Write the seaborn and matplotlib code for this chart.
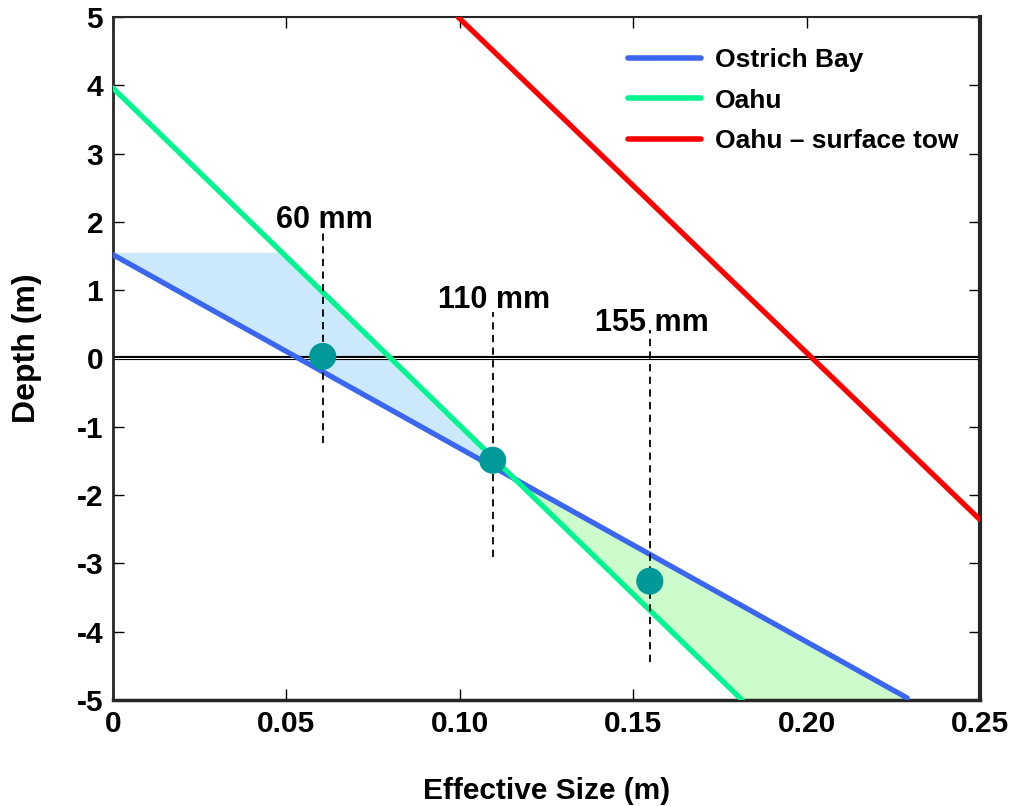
"""
Depth vs effective size for Ostrich Bay and Oahu.
"""

import matplotlib
matplotlib.use("Agg")
import matplotlib.pyplot as plt
import seaborn as sns
import pandas as pd

# Line endpoints
ostrich_x = [0.0, 0.229]
ostrich_y = [1.52, -4.97]
oahu_x = [0.0, 0.1814]
oahu_y = [3.96, -5.0]
tow_x = [0.0995, 0.25]
tow_y = [5.0, -2.36]

# Shaded regions between the lines
blue_fill_x = [0.0, 0.0, 0.049, 0.1156]
blue_fill_y = [1.52, 1.55, 1.55, -1.75]
green_fill_x = [0.1156, 0.1814, 0.229]
green_fill_y = [-1.75, -5.0, -5.0]

# Size markers
marker_x = [0.0605, 0.1095, 0.1548]
marker_y = [0.03, -1.49, -3.26]
marker_labels = ["60 mm", "110 mm", "155 mm"]
guide_top = [1.85, 0.68, 0.42]
guide_bottom = [-1.24, -2.9, -4.44]
label_y = [2.03, 0.86, 0.52]

x_ticks = [0, 0.05, 0.10, 0.15, 0.20, 0.25]
x_tick_labels = ["0", "0.05", "0.10", "0.15", "0.20", "0.25"]
y_ticks = [-5, -4, -3, -2, -1, 0, 1, 2, 3, 4, 5]

sns.set_style("ticks")
plt.rcParams['font.family'] = ['Liberation Sans', 'DejaVu Sans']
plt.rcParams['font.weight'] = 'bold'
plt.rcParams['axes.unicode_minus'] = False
for key in ['text.color', 'axes.labelcolor', 'xtick.color', 'ytick.color']:
    plt.rcParams[key] = 'black'

fig = plt.figure(figsize=(10.17, 8.06), dpi=100)
ax = fig.add_axes([0.111, 0.1315, 0.8526, 0.8475])

# Fills first so lines sit on top
ax.fill(blue_fill_x, blue_fill_y, color="#cce9fc", lw=0, zorder=1)
ax.fill(green_fill_x, green_fill_y, color="#ccfccc", lw=0, zorder=1)

# Zero line (drawn as a double line)
ax.axhline(0, color="black", lw=3, zorder=2)
ax.axhline(0, color="white", lw=0.7, zorder=2)

lines = pd.DataFrame({
    "x": ostrich_x + oahu_x + tow_x,
    "y": ostrich_y + oahu_y + tow_y,
    "site": ["Ostrich Bay"] * 2 + ["Oahu"] * 2 + ["Oahu \u2013 surface tow"] * 2,
})
palette = {"Ostrich Bay": "#3a66f0", "Oahu": "#00f590", "Oahu \u2013 surface tow": "#ff0000"}
sns.lineplot(data=lines, x="x", y="y", hue="site", palette=palette, lw=3.8,
             sort=False, estimator=None, ax=ax, zorder=3)

# Dashed guides and labels
for mx, top, bot, ly, lab in zip(marker_x, guide_top, guide_bottom, label_y, marker_labels):
    ax.plot([mx, mx], [bot, top], color="black", ls=(0, (4, 3)), lw=1.3, zorder=4)
    ax.text(mx + 0.0005, ly, lab, ha="center", va="center", fontsize=22, fontweight="bold")

sns.scatterplot(x=marker_x, y=marker_y, color="#009999", s=380, edgecolor="none",
                ax=ax, zorder=5, legend=False)

ax.set_xlim(0, 0.25)
ax.set_ylim(-5, 5)
ax.set_xticks(x_ticks)
ax.set_xticklabels(x_tick_labels)
ax.set_yticks(y_ticks)
ax.tick_params(direction="in", length=8, width=1, top=True, right=True,
               labelsize=21.5, pad=7)
for lab in ax.get_xticklabels() + ax.get_yticklabels():
    lab.set_fontweight("bold")

ax.spines["left"].set_linewidth(2)
ax.spines["right"].set_linewidth(3)
ax.spines["top"].set_linewidth(1.5)
ax.spines["bottom"].set_linewidth(2.5)

ax.set_xlabel("Effective Size (m)", fontsize=21.5, fontweight="bold")
ax.set_ylabel("Depth (m)", fontsize=23, fontweight="bold")
ax.xaxis.set_label_coords(0.5, -0.113)
ax.yaxis.set_label_coords(-0.082, 0.515)

leg = ax.legend(loc="upper right", frameon=False, fontsize=19, handlelength=2.75,
                handletextpad=0.55, labelspacing=0.62, borderaxespad=0.4,
                bbox_to_anchor=(1.0, 0.985))
for h in leg.get_lines():
    h.set_linewidth(4)
for t in leg.get_texts():
    t.set_fontweight("bold")

fig.savefig("out.png", dpi=100)
